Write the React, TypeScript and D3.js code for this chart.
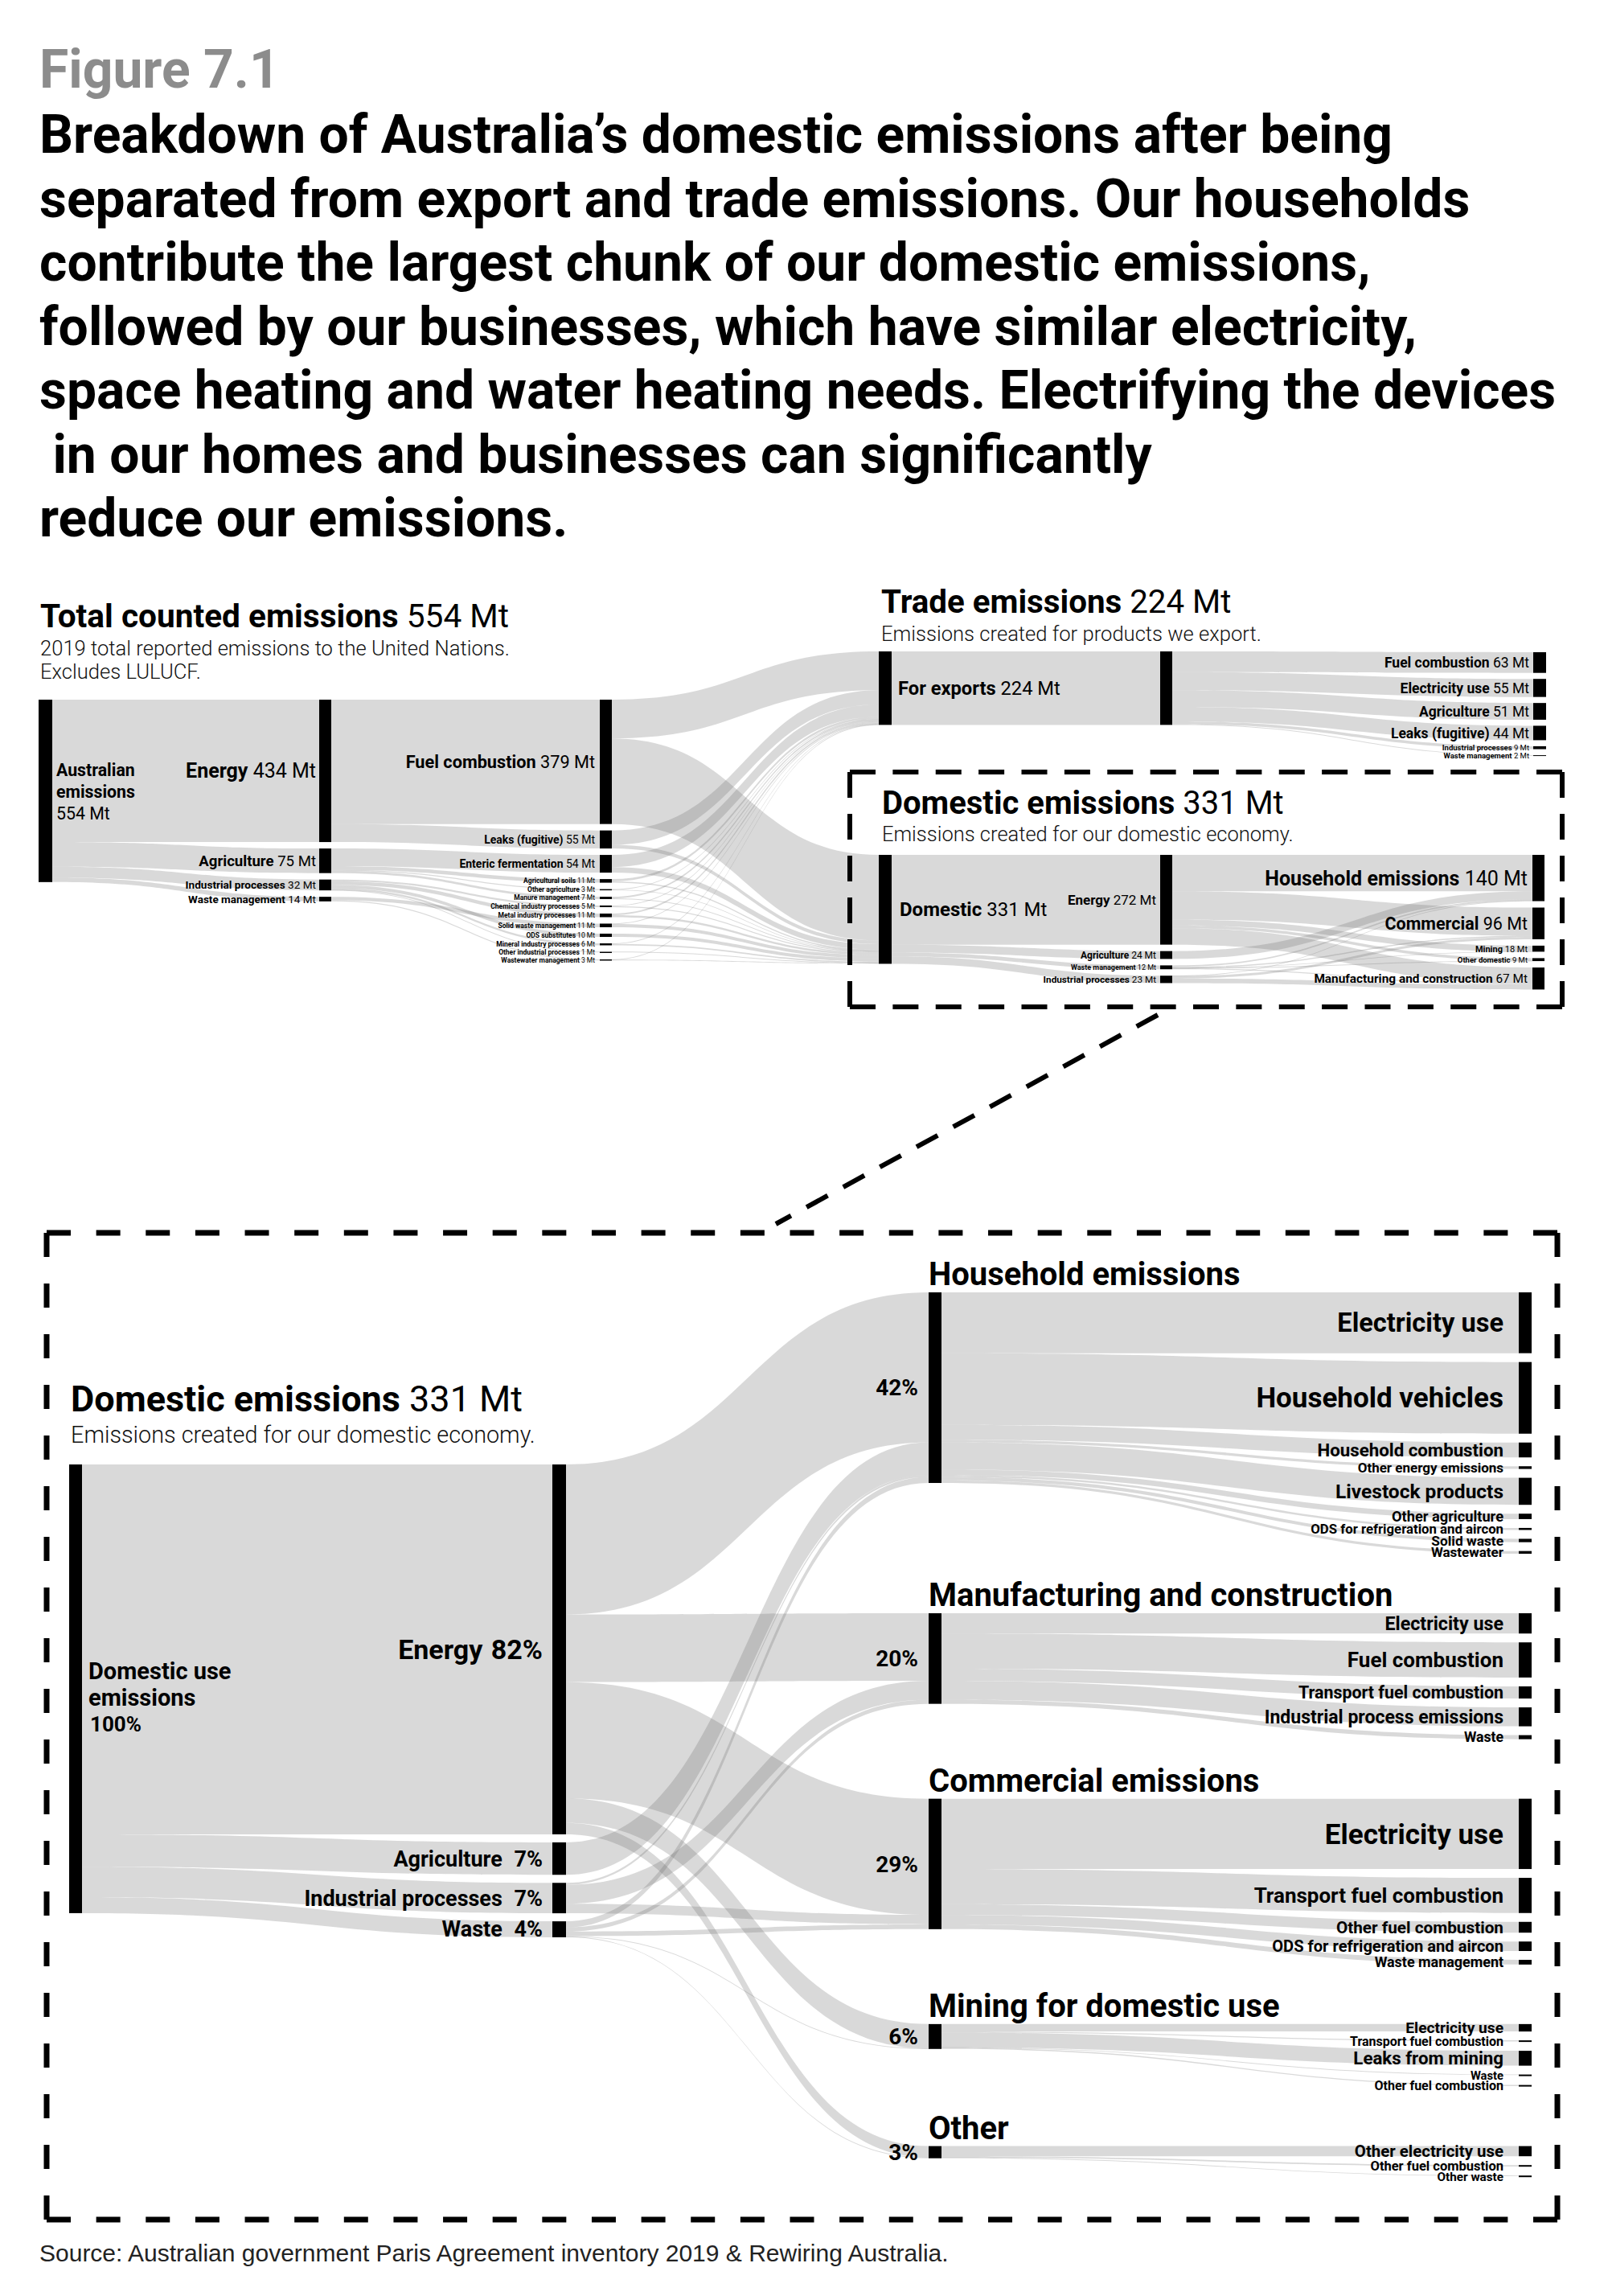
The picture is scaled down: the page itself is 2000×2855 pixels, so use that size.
import * as d3 from "d3";

const W = 2000;
const H = 2855;
const SANS = "Roboto, 'Noto Sans', Arial, sans-serif";

const figureNumber = "Figure 7.1";
const titleLines = [
  "Breakdown of Australia’s domestic emissions after being",
  "separated from export and trade emissions. Our households",
  "contribute the largest chunk of our domestic emissions,",
  "followed by our businesses, which have similar electricity,",
  "space heating and water heating needs. Electrifying the devices",
  " in our homes and businesses can significantly",
  "reduce our emissions.",
];
const sourceNote = "Source: Australian government Paris Agreement inventory 2019 & Rewiring Australia.";

// total counted emissions, Mt
const totalMt = 554;
const sectorNames = ["Energy", "Agriculture", "Industrial processes", "Waste management"];
const sectorMt = [434, 75, 32, 14];
const categoryNames = [
  "Fuel combustion", "Leaks (fugitive)", "Enteric fermentation", "Agricultural soils",
  "Other agriculture", "Manure management", "Chemical industry processes",
  "Metal industry processes", "Solid waste management", "ODS substitutes",
  "Mineral industry processes", "Other industrial processes", "Wastewater management",
];
const categorySector = [0, 0, 1, 1, 1, 1, 2, 2, 3, 2, 2, 2, 3];
const categoryMt = [379, 55, 54, 11, 3, 7, 5, 11, 11, 10, 6, 1, 3];
const categoryExportMt = [118, 44, 37, 7, 2, 5, 2, 5, 1, 0, 2, 0, 1];

// trade emissions
const exportMt = 224;
const tradeNames = ["Fuel combustion", "Electricity use", "Agriculture", "Leaks (fugitive)", "Industrial processes", "Waste management"];
const tradeMt = [63, 55, 51, 44, 9, 2];

// domestic emissions
const domesticMt = 331;
const domesticSectorNames = ["Energy", "Agriculture", "Waste management", "Industrial processes"];
const domesticSectorMt = [272, 24, 12, 23];
const domesticUseNames = ["Household emissions", "Commercial", "Mining", "Other domestic", "Manufacturing and construction"];
const domesticUseMt = [140, 96, 18, 9, 67];

// domestic use breakdown (sector index into useSectorNames)
const useSectorNames = ["Energy", "Agriculture", "Industrial processes", "Waste"];
const useSectorToDomestic = [0, 1, 3, 2];
const useGroupNames = ["Household emissions", "Manufacturing and construction", "Commercial emissions", "Mining for domestic use", "Other"];
const useGroupToDomestic = [0, 4, 1, 2, 3];

const householdItems = ["Electricity use", "Household vehicles", "Household combustion", "Other energy emissions", "Livestock products", "Other agriculture", "ODS for refrigeration and aircon", "Solid waste", "Wastewater"];
const householdSector = [0, 0, 0, 0, 1, 1, 2, 3, 3];
const householdMt = [45, 53, 11, 2, 20, 4, 1.5, 2.5, 2];

const manufacturingItems = ["Electricity use", "Fuel combustion", "Transport fuel combustion", "Industrial process emissions", "Waste"];
const manufacturingSector = [0, 0, 0, 2, 3];
const manufacturingMt = [15, 26, 9, 14, 3];

const commercialItems = ["Electricity use", "Transport fuel combustion", "Other fuel combustion", "ODS for refrigeration and aircon", "Waste management"];
const commercialSector = [0, 0, 0, 2, 3];
const commercialMt = [52, 26, 8, 7, 3.5];

const miningItems = ["Electricity use", "Transport fuel combustion", "Leaks from mining", "Waste", "Other fuel combustion"];
const miningSector = [0, 0, 0, 3, 0];
const miningMt = [5.5, 0.8, 11, 0.3, 0.8];

const otherItems = ["Other electricity use", "Other fuel combustion", "Other waste"];
const otherSector = [0, 0, 3];
const otherMt = [7.5, 1, 0.5];

const useGroups = [
  { items: householdItems, sector: householdSector, mt: householdMt },
  { items: manufacturingItems, sector: manufacturingSector, mt: manufacturingMt },
  { items: commercialItems, sector: commercialSector, mt: commercialMt },
  { items: miningItems, sector: miningSector, mt: miningMt },
  { items: otherItems, sector: otherSector, mt: otherMt },
];

type SNode = { id: string; x: number; w: number; k: number; minH: number; y: number; h: number; value: number };
type SLink = { source: string; target: string; value: number; k: number; width: number; sy: number; ty: number };

const K_TOP = 0.408;
const K_BOT = 1.681;

function buildSankey() {
  const nodes = new Map<string, SNode>();
  const links: SLink[] = [];
  const node = (id: string, x: number, w: number, k: number, minH = 0) =>
    nodes.set(id, { id, x, w, k, minH, y: 0, h: 0, value: 0 });
  const link = (source: string, target: string, value: number, k: number) => {
    if (value > 0) links.push({ source, target, value, k, width: value * k, sy: 0, ty: 0 });
  };

  // total counted emissions
  node("aus", 48, 17, K_TOP);
  sectorNames.forEach((_, i) => node(`sec${i}`, 397, 15, K_TOP, 1.5));
  categoryNames.forEach((_, i) => node(`cat${i}`, 746, 15, K_TOP, 1.5));
  node("exports", 1093, 16, K_TOP);
  node("domestic", 1093, 16, K_TOP);
  sectorNames.forEach((_, s) =>
    link("aus", `sec${s}`, d3.sum(categoryMt.filter((_, i) => categorySector[i] === s)), K_TOP)
  );
  categoryNames.forEach((_, i) => {
    link(`sec${categorySector[i]}`, `cat${i}`, categoryMt[i], K_TOP);
    link(`cat${i}`, "exports", categoryExportMt[i], K_TOP);
    link(`cat${i}`, "domestic", categoryMt[i] - categoryExportMt[i], K_TOP);
  });

  // trade
  node("tradeMid", 1443, 15, K_TOP);
  tradeNames.forEach((_, i) => node(`trade${i}`, 1907, 16, K_TOP, 1));
  link("exports", "tradeMid", d3.sum(tradeMt), K_TOP);
  tradeMt.forEach((v, i) => link("tradeMid", `trade${i}`, v, K_TOP));

  // sector x group matrix from the breakdown
  const matrix = useSectorNames.map((_, s) =>
    useGroups.map((g) => d3.sum(g.mt.filter((_, i) => g.sector[i] === s)))
  );

  // domestic (top right)
  domesticSectorNames.forEach((_, i) => node(`dsec${i}`, 1443, 15, K_TOP, 1.5));
  domesticUseNames.forEach((_, i) => node(`duse${i}`, 1906, 15, K_TOP, 1.5));
  useSectorNames.forEach((_, s) => {
    const ds = useSectorToDomestic[s];
    link("domestic", `dsec${ds}`, d3.sum(matrix[s]), K_TOP);
    useGroups.forEach((_, g) => link(`dsec${ds}`, `duse${useGroupToDomestic[g]}`, matrix[s][g], K_TOP));
  });

  // domestic use (bottom)
  node("bdom", 86, 16, K_BOT);
  useSectorNames.forEach((_, i) => node(`bsec${i}`, 687, 17, K_BOT));
  useGroupNames.forEach((_, g) => node(`bgrp${g}`, 1155, 16, K_BOT));
  useSectorNames.forEach((_, s) => {
    link("bdom", `bsec${s}`, d3.sum(matrix[s]), K_BOT);
    useGroups.forEach((_, g) => link(`bsec${s}`, `bgrp${g}`, matrix[s][g], K_BOT));
  });
  useGroups.forEach((grp, g) => {
    grp.items.forEach((_, i) => {
      node(`bitem${g}_${i}`, 1889, 16, K_BOT, 2);
      link(`bgrp${g}`, `bitem${g}_${i}`, grp.mt[i], K_BOT);
    });
  });

  // node values and heights
  nodes.forEach((n) => {
    const vin = d3.sum(links.filter((l) => l.target === n.id), (l) => l.value);
    const vout = d3.sum(links.filter((l) => l.source === n.id), (l) => l.value);
    n.value = Math.max(vin, vout);
    n.h = Math.max(n.value * n.k, n.minH);
  });

  const stack = (ids: string[], top: number, gap: number) => {
    let y = top;
    ids.forEach((id) => {
      const n = nodes.get(id)!;
      n.y = y;
      y += n.h + gap;
    });
    return y - gap;
  };

  stack(["aus"], 870, 0);
  stack(sectorNames.map((_, i) => `sec${i}`), 870, 8);
  stack(categoryNames.map((_, i) => `cat${i}`), 870, 8);
  nodes.get("exports")!.y = 810;
  nodes.get("domestic")!.y = 1063;
  nodes.get("tradeMid")!.y = 810;
  stack(tradeNames.map((_, i) => `trade${i}`), 811, 7.5);
  stack(domesticSectorNames.map((_, i) => `dsec${i}`), 1063, 8);
  stack(domesticUseNames.map((_, i) => `duse${i}`), 1063, 8);
  stack(["bdom"], 1821, 0);
  stack(useSectorNames.map((_, i) => `bsec${i}`), 1821, 10);
  let top = 1607;
  useGroups.forEach((grp, g) => {
    nodes.get(`bgrp${g}`)!.y = top;
    const end = stack(grp.items.map((_, i) => `bitem${g}_${i}`), top, 11);
    top = end + 74;
  });

  // link offsets
  nodes.forEach((n) => {
    let y = n.y;
    links
      .filter((l) => l.source === n.id)
      .sort((a, b) => nodes.get(a.target)!.y - nodes.get(b.target)!.y)
      .forEach((l) => {
        l.sy = y;
        y += l.width;
      });
    y = n.y;
    links
      .filter((l) => l.target === n.id)
      .sort((a, b) => nodes.get(a.source)!.y - nodes.get(b.source)!.y)
      .forEach((l) => {
        l.ty = y;
        y += l.width;
      });
  });

  return { nodes, links, matrix };
}

function bandPath(l: SLink, x0: number, x1: number) {
  const w = Math.max(l.width, 0.9);
  const c0 = l.sy + l.width / 2;
  const c1 = l.ty + l.width / 2;
  const xm = (x0 + x1) / 2;
  const p = d3.path();
  p.moveTo(x0, c0 - w / 2);
  p.bezierCurveTo(xm, c0 - w / 2, xm, c1 - w / 2, x1, c1 - w / 2);
  p.lineTo(x1, c1 + w / 2);
  p.bezierCurveTo(xm, c1 + w / 2, xm, c0 + w / 2, x0, c0 + w / 2);
  p.closePath();
  return p.toString();
}

function dashedSide(x0: number, y0: number, x1: number, y1: number, dash: number, gap: number) {
  const len = Math.hypot(x1 - x0, y1 - y0);
  const n = Math.max(1, Math.round((len - dash) / (dash + gap)));
  const g = (len - dash * (n + 1)) / n;
  return { d: `M${x0},${y0}L${x1},${y1}`, dasharray: `${dash} ${g}` };
}

function DashedBox({ x0, y0, x1, y1, dash, gap, sw }: { x0: number; y0: number; x1: number; y1: number; dash: number; gap: number; sw: number }) {
  const sides = [
    dashedSide(x0, y0, x1, y0, dash, gap),
    dashedSide(x1, y0, x1, y1, dash, gap),
    dashedSide(x0, y1, x1, y1, dash, gap),
    dashedSide(x0, y0, x0, y1, dash, gap),
  ];
  return (
    <g fill="none" stroke="#000" strokeWidth={sw} strokeLinecap="butt">
      {sides.map((s, i) => (
        <path key={i} d={s.d} strokeDasharray={s.dasharray} />
      ))}
    </g>
  );
}

function NameValue({ x, y, name, value, size, anchor = "end" }: { x: number; y: number; name: string; value: string; size: number; anchor?: string }) {
  return (
    <text x={x} y={y} dy="0.35em" textAnchor={anchor} fontSize={size} fill="#000">
      <tspan fontWeight={700}>{name}</tspan>
      <tspan fontWeight={400}>{" " + value}</tspan>
    </text>
  );
}

function Header({ x, y, bold, value, size, sub, subSize }: { x: number; y: number; bold: string; value: string; size: number; sub: string[]; subSize: number }) {
  return (
    <g>
      <text x={x} y={y} fontSize={size} fill="#000">
        <tspan fontWeight={700}>{bold}</tspan>
        <tspan fontWeight={400}>{" " + value}</tspan>
      </text>
      {sub.map((s, i) => (
        <text key={i} x={x} y={y + subSize * 1.35 + i * subSize * 1.15} fontSize={subSize} fontWeight={300} fill="#111">
          {s}
        </text>
      ))}
    </g>
  );
}

export default function App() {
  const { nodes, links } = buildSankey();
  const N = (id: string) => nodes.get(id)!;
  const mid = (id: string) => N(id).y + N(id).h / 2;

  const sectorFont = d3.scaleLinear().domain([14, 32, 75, 434]).range([13.5, 13.6, 18.6, 25]).clamp(true);
  const catFont = d3.scaleLinear().domain([11, 54, 379]).range([8.5, 14, 21.7]).clamp(true);
  const tradeFont = d3.scaleLinear().domain([9, 44]).range([9.5, 17.5]).clamp(true);
  const dSecFont = d3.scaleLinear().domain([12, 24, 272]).range([9, 12, 17]).clamp(true);
  const dUseFont = d3.scaleLinear().domain([9, 18, 67, 96, 140]).range([9.5, 11, 15.4, 21.5, 25]).clamp(true);
  const itemFont = d3.scaleLinear().domain([0, 1, 2, 10, 26, 52]).range([14, 16.5, 17, 22, 26, 35]).clamp(true);

  const bottomTotal = N("bdom").value;
  const pct = (v: number) => `${Math.round((v / bottomTotal) * 100)}%`;

  return (
    <svg
      width={W}
      height={H}
      viewBox={`0 0 ${W} ${H}`}
      style={{ position: "absolute", left: 0, top: 0 }}
      fontFamily={SANS}
    >
      <rect width={W} height={H} fill="#fff" />

      {/* title */}
      <text x={49} y={109} fontSize={66} fontWeight={700} fill="#8c8c8c">
        {figureNumber}
      </text>
      {titleLines.map((line, i) => (
        <text key={i} x={49} y={190 + i * 79.5} fontSize={66} fontWeight={700} fill="#000" style={{ whiteSpace: "pre" }}>
          {line}
        </text>
      ))}

      {/* links */}
      <g fill="#6d6d6d" fillOpacity={0.26}>
        {links.map((l, i) => {
          const s = N(l.source);
          const t = N(l.target);
          return <path key={i} d={bandPath(l, s.x + s.w, t.x)} />;
        })}
      </g>

      {/* nodes */}
      <g fill="#000">
        {[...nodes.values()].map((n) => (
          <rect key={n.id} x={n.x} y={n.y} width={n.w} height={n.h} />
        ))}
      </g>

      {/* total counted emissions */}
      <Header
        x={50}
        y={780}
        bold="Total counted emissions"
        value={`${totalMt} Mt`}
        size={40.6}
        sub={["2019 total reported emissions to the United Nations.", "Excludes LULUCF."]}
        subSize={25.6}
      />
      <g fontSize={21.3} fill="#000">
        <text x={70} y={965} fontWeight={700}>Australian</text>
        <text x={70} y={992} fontWeight={700}>emissions</text>
        <text x={70} y={1019} fontWeight={400}>{`${totalMt} Mt`}</text>
      </g>
      {sectorNames.map((name, i) => (
        <NameValue key={name} x={N(`sec${i}`).x - 4} y={mid(`sec${i}`)} name={name} value={`${sectorMt[i]} Mt`} size={sectorFont(sectorMt[i])} />
      ))}
      {categoryNames.map((name, i) => (
        <NameValue key={name} x={N(`cat${i}`).x - 6} y={mid(`cat${i}`)} name={name} value={`${categoryMt[i]} Mt`} size={catFont(categoryMt[i])} />
      ))}

      {/* trade emissions */}
      <Header
        x={1096}
        y={762}
        bold="Trade emissions"
        value={`${exportMt} Mt`}
        size={40.3}
        sub={["Emissions created for products we export."]}
        subSize={25.6}
      />
      <NameValue x={1117} y={mid("exports")} name="For exports" value={`${exportMt} Mt`} size={23.7} anchor="start" />
      {tradeNames.map((name, i) => (
        <NameValue key={name} x={N(`trade${i}`).x - 5} y={mid(`trade${i}`)} name={name} value={`${tradeMt[i]} Mt`} size={tradeFont(tradeMt[i])} />
      ))}

      {/* domestic emissions */}
      <DashedBox x0={1057} y0={960} x1={1943} y1={1252} dash={32} gap={20} sw={6} />
      <Header
        x={1097}
        y={1012}
        bold="Domestic emissions"
        value={`${domesticMt} Mt`}
        size={40}
        sub={["Emissions created for our domestic economy."]}
        subSize={25.5}
      />
      <NameValue x={1119} y={mid("domestic")} name="Domestic" value={`${domesticMt} Mt`} size={24} anchor="start" />
      {domesticSectorNames.map((name, i) => (
        <NameValue key={name} x={N(`dsec${i}`).x - 5} y={mid(`dsec${i}`)} name={name} value={`${domesticSectorMt[i]} Mt`} size={dSecFont(domesticSectorMt[i])} />
      ))}
      {domesticUseNames.map((name, i) => (
        <NameValue key={name} x={N(`duse${i}`).x - 6} y={mid(`duse${i}`)} name={name} value={`${domesticUseMt[i]} Mt`} size={dUseFont(domesticUseMt[i])} />
      ))}

      {/* zoom connector */}
      <line x1={1440} y1={1262} x2={965} y2={1522} stroke="#000" strokeWidth={6} strokeDasharray="30 22" />

      {/* domestic use breakdown */}
      <DashedBox x0={58} y0={1533} x1={1937} y1={2760} dash={30} gap={32} sw={7} />
      <Header
        x={88}
        y={1755}
        bold="Domestic emissions"
        value={`${domesticMt} Mt`}
        size={45}
        sub={["Emissions created for our domestic economy."]}
        subSize={28.8}
      />
      <g fontWeight={700} fill="#000">
        <text x={110} y={2088} fontSize={29}>Domestic use</text>
        <text x={110} y={2121} fontSize={29}>emissions</text>
        <text x={112} y={2153} fontSize={26}>100%</text>
      </g>
      {useSectorNames.map((name, i) => (
        <text key={name} x={N(`bsec${i}`).x - 12} y={mid(`bsec${i}`)} dy="0.35em" textAnchor="end" fontWeight={700} fontSize={i === 0 ? 34 : 27}>
          {name}
          <tspan dx={i === 0 ? 2 : 8}>{" " + pct(N(`bsec${i}`).value)}</tspan>
        </text>
      ))}
      {useGroupNames.map((name, g) => (
        <g key={name}>
          <text x={1155} y={N(`bgrp${g}`).y - 9} fontSize={40} fontWeight={700}>
            {name}
          </text>
          <text x={1142} y={mid(`bgrp${g}`)} dy="0.35em" textAnchor="end" fontSize={28} fontWeight={700}>
            {pct(N(`bgrp${g}`).value)}
          </text>
        </g>
      ))}
      {useGroups.map((grp, g) =>
        grp.items.map((item, i) => (
          <text
            key={`${g}-${i}`}
            x={1870}
            y={mid(`bitem${g}_${i}`)}
            dy="0.35em"
            textAnchor="end"
            fontWeight={700}
            fontSize={itemFont(grp.mt[i])}
          >
            {item}
          </text>
        ))
      )}

      <text x={49} y={2812} fontFamily="'Liberation Sans', Arial, sans-serif" fontSize={30} fill="#222">
        {sourceNote}
      </text>
    </svg>
  );
}
